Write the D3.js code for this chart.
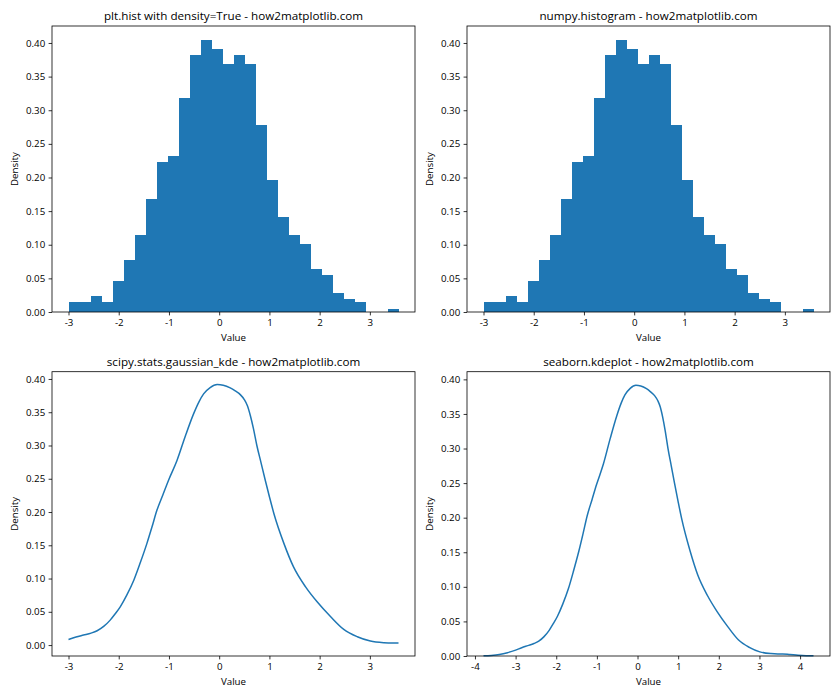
<!DOCTYPE html>
<html><head><meta charset="utf-8">
<script src="https://cdn.jsdelivr.net/npm/d3@7"></script>
<style>
body{margin:0;background:#fff}
svg text{font-family:"Open Sans","Noto Sans",sans-serif;fill:#000}
</style></head><body>
<svg id="c" width="840" height="700"></svg>
<script>
// ---- data ----
const binDensity = [0.0154, 0.0154, 0.0243, 0.0154, 0.0466, 0.0778, 0.115, 0.1685, 0.2235, 0.2325,
  0.3187, 0.3826, 0.405, 0.3916, 0.369, 0.3826, 0.369, 0.2786, 0.1968, 0.1418,
  0.115, 0.1016, 0.0644, 0.0555, 0.0287, 0.0198, 0.0154, 0, 0, 0.005];
const dataMin = -3.0, dataMax = 3.57;

const kdeX = [-3.79, -3.6, -3.4, -3.2, -3.0, -2.85, -2.7, -2.55, -2.43, -2.3, -2.17, -2.07, -1.97, -1.84, -1.70,
  -1.57, -1.44, -1.34, -1.24, -1.12, -1.01, -0.84, -0.67, -0.51, -0.40, -0.31, -0.18, -0.04, 0.08, 0.22,
  0.32, 0.42, 0.50, 0.56, 0.62, 0.68, 0.75, 0.83, 0.91, 1.00, 1.09, 1.29, 1.48, 1.72, 1.95, 2.22, 2.48, 2.75, 3.01,
  3.28, 3.45, 3.57, 3.75, 3.95, 4.15, 4.33];
const kdeY = [0.0004, 0.0009, 0.0022, 0.0048, 0.0085, 0.012, 0.015, 0.018, 0.0215, 0.028, 0.0375, 0.047, 0.0575, 0.075, 0.0975,
  0.124, 0.1525, 0.177, 0.2025, 0.226, 0.2475, 0.2775, 0.315, 0.3475, 0.366, 0.3775, 0.387, 0.3915, 0.3905, 0.3865,
  0.382, 0.3765, 0.369, 0.360, 0.345, 0.326, 0.30, 0.275, 0.25, 0.223, 0.1975, 0.1525, 0.1175, 0.0875, 0.065, 0.0425, 0.0235, 0.0125, 0.006,
  0.0035, 0.003, 0.003, 0.0022, 0.0012, 0.0005, 0.0002];

const xTicksMain = [-3, -2, -1, 0, 1, 2, 3];
const xTicksSeaborn = [-4, -3, -2, -1, 0, 1, 2, 3, 4];
const yTicks = [0, 0.05, 0.10, 0.15, 0.20, 0.25, 0.30, 0.35, 0.40];
const titles = ["plt.hist with density=True - how2matplotlib.com",
  "numpy.histogram - how2matplotlib.com",
  "scipy.stats.gaussian_kde - how2matplotlib.com",
  "seaborn.kdeplot - how2matplotlib.com"];
const xLabel = "Value", yLabel = "Density";
const color = "#1f77b4";

// ---- layout ----
const svg = d3.select("#c");
const boxes = [
  {x0: 52, x1: 415, y0: 26, y1: 312},
  {x0: 467, x1: 830, y0: 26, y1: 312},
  {x0: 52, x1: 415, y0: 371.7, y1: 656},
  {x0: 467, x1: 830, y0: 371.7, y1: 656}
];
const TICK = 9.72, TITLE = 11.67;

function pad(lo, hi) { const r = hi - lo; return [lo - 0.05 * r, hi + 0.05 * r]; }

function makePanel(i, xDom, yDom, xTicks) {
  const b = boxes[i];
  const g = svg.append("g");
  const x = d3.scaleLinear().domain(xDom).range([b.x0, b.x1]);
  const y = d3.scaleLinear().domain(yDom).range([b.y1, b.y0]);
  const content = g.append("g");
  const xa = g.append("g").attr("transform", `translate(0,${b.y1})`)
    .call(d3.axisBottom(x).tickValues(xTicks).tickSize(3.4).tickPadding(3.4).tickFormat(d => String(d)));
  const ya = g.append("g").attr("transform", `translate(${b.x0},0)`)
    .call(d3.axisLeft(y).tickValues(yTicks).tickSize(3.4).tickPadding(3.4).tickFormat(d3.format(".2f")));
  [xa, ya].forEach(a => {
    a.select(".domain").remove();
    a.selectAll("line").attr("stroke", "#000").attr("stroke-width", 0.8);
    a.selectAll("text").attr("font-size", TICK).attr("font-family", null).style("fill", "#000");
  });
  g.append("rect").attr("x", b.x0).attr("y", b.y0).attr("width", b.x1 - b.x0).attr("height", b.y1 - b.y0)
    .attr("fill", "none").attr("stroke", "#000").attr("stroke-width", 0.8);
  g.append("text").attr("x", (b.x0 + b.x1) / 2).attr("y", b.y0 - 6).attr("text-anchor", "middle")
    .attr("font-size", TITLE).text(titles[i]);
  g.append("text").attr("x", (b.x0 + b.x1) / 2).attr("y", b.y1 + 29).attr("text-anchor", "middle")
    .attr("font-size", TICK).text(xLabel);
  g.append("text").attr("transform", `translate(${b.x0 - 34},${(b.y0 + b.y1) / 2}) rotate(-90)`)
    .attr("text-anchor", "middle").attr("font-size", TICK).text(yLabel);
  return {content, x, y};
}

// histogram bins
const nb = binDensity.length;
const w = (dataMax - dataMin) / nb;
const bins = binDensity.map((d, i) => ({lo: dataMin + i * w, hi: dataMin + (i + 1) * w, d}));
const histX = pad(dataMin, dataMax);
const histY = [0, d3.max(binDensity) * 1.05];

[0, 1].forEach(i => {
  const p = makePanel(i, histX, histY, xTicksMain);
  p.content.selectAll("rect").data(bins).join("rect")
    .attr("x", d => p.x(d.lo)).attr("width", d => p.x(d.hi) - p.x(d.lo))
    .attr("y", d => p.y(d.d)).attr("height", d => p.y(0) - p.y(d.d))
    .attr("fill", color).attr("shape-rendering", "crispEdges");
});

// KDE
const kde = kdeX.map((v, i) => ({x: v, y: kdeY[i]}));
const scipyPts = kde.filter(d => d.x >= dataMin - 1e-9 && d.x <= dataMax + 0.01);
{
  const ys = scipyPts.map(d => d.y);
  const p = makePanel(2, histX, pad(d3.min(ys), d3.max(ys)), xTicksMain);
  p.content.append("path").datum(scipyPts)
    .attr("d", d3.line().x(d => p.x(d.x)).y(d => p.y(d.y)).curve(d3.curveMonotoneX))
    .attr("fill", "none").attr("stroke", color).attr("stroke-width", 1.5);
}
{
  const xs = kde.map(d => d.x);
  const p = makePanel(3, pad(d3.min(xs), d3.max(xs)), [0, d3.max(kdeY) * 1.05], xTicksSeaborn);
  p.content.append("path").datum(kde)
    .attr("d", d3.line().x(d => p.x(d.x)).y(d => p.y(d.y)).curve(d3.curveMonotoneX))
    .attr("fill", "none").attr("stroke", color).attr("stroke-width", 1.5);
}
</script>
</body></html>
